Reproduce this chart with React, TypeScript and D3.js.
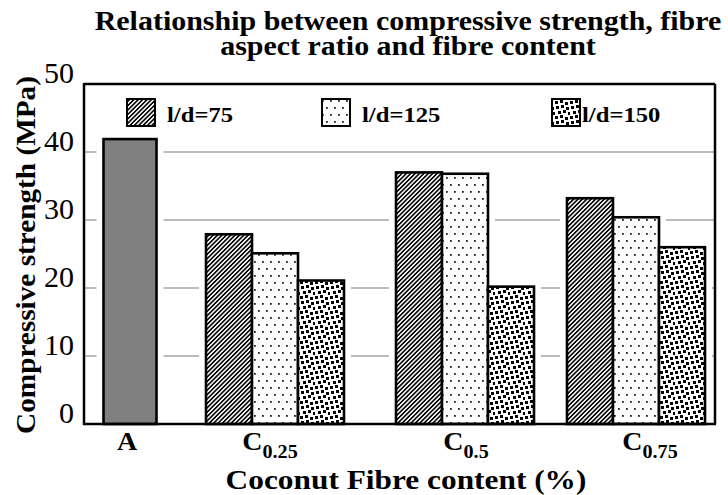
import React from 'react';
import * as d3 from 'd3';

// ---- data ----
const categories = ['A', 'C0.25', 'C0.5', 'C0.75'];
const categoryMain = ['A', 'C', 'C', 'C'];
const categorySub = ['', '0.25', '0.5', '0.75'];
const seriesNames = ['l/d=75', 'l/d=125', 'l/d=150'];
const controlValue = 41.9; // A (plain concrete)
const ld75 = [27.9, 37.0, 33.2];
const ld125 = [25.1, 36.8, 30.4];
const ld150 = [21.1, 20.2, 26.0];
const yTicks = [0, 10, 20, 30, 40, 50];

const title1 = 'Relationship between compressive strength, fibre';
const title2 = 'aspect ratio and fibre content';
const yTitle = 'Compressive strength (MPa)';
const xTitle = 'Coconut Fibre content (%)';

const W = 728;
const H = 495;
const plotL = 84;
const plotR = 715;
const plotT = 84;
const plotB = 424;
const FONT = "'Liberation Serif', 'DejaVu Serif', serif";

const seriesFill = ['url(#stripes)', 'url(#dots)', 'url(#dense)'];

type STProps = {
  x: number;
  y: number;
  sx?: number;
  rotate?: number;
  anchor?: 'start' | 'middle' | 'end';
  size: number;
  bold?: boolean;
  children: React.ReactNode;
};
function StretchText({ x, y, sx = 1, rotate = 0, anchor = 'start', size, bold = true, children }: STProps) {
  return (
    <text
      transform={`translate(${x},${y}) rotate(${rotate}) scale(${sx},1)`}
      textAnchor={anchor}
      fontSize={size}
      fontWeight={bold ? 'bold' : 'normal'}
      style={{ fontFamily: FONT }}
    >
      {children}
    </text>
  );
}

export default function App() {
  const y = d3.scaleLinear().domain([0, 50]).range([plotB, plotT]);
  const groupCenter = d3
    .scaleOrdinal<string, number>()
    .domain(categories)
    .range([130, 275, 465, 636]);
  const inner = d3.scaleBand<string>().domain(seriesNames).range([-69, 69]);
  const bw = inner.bandwidth();
  const aWidth = 53;

  const seriesVals = [ld75, ld125, ld150];
  type Bar = { x: number; w: number; v: number; fill: string };
  const bars: Bar[] = [];
  bars.push({ x: groupCenter('A') - aWidth / 2, w: aWidth, v: controlValue, fill: '#808080' });
  categories.slice(1).forEach((c, ci) => {
    seriesNames.forEach((s, si) => {
      bars.push({
        x: groupCenter(c) + (inner(s) as number),
        w: bw,
        v: seriesVals[si][ci],
        fill: seriesFill[si],
      });
    });
  });

  const denseSquares = [
    [1, 1], [6, 0], [11, 2],
    [3, 6], [8, 5], [13, 7],
    [0, 11], [5, 10], [10, 12],
  ];

  const legendItems = [
    { sx: 127, lx: 167, name: seriesNames[0], fill: seriesFill[0] },
    { sx: 322, lx: 362, name: seriesNames[1], fill: seriesFill[1] },
    { sx: 552, lx: 582, name: seriesNames[2], fill: seriesFill[2] },
  ];

  const labelShift = [-3, -5, 1, 14];

  return (
    <svg
      width={W}
      height={H}
      style={{ position: 'absolute', left: 0, top: 0, background: '#fff', fontFamily: FONT }}
    >
      <defs>
        <pattern id="stripes" patternUnits="userSpaceOnUse" width={3.1} height={3.1} patternTransform="rotate(45)">
          <rect x={0} y={0} width={3.1} height={3.1} fill="#fff" />
          <rect x={0} y={0} width={1.6} height={3.1} fill="#000" />
        </pattern>
        <pattern id="dots" patternUnits="userSpaceOnUse" width={8} height={14}>
          <rect x={0} y={0} width={8} height={14} fill="#fff" />
          <rect x={2} y={2} width={1.8} height={1.8} fill="#222" />
          <rect x={6} y={9} width={1.8} height={1.8} fill="#222" />
        </pattern>
        <pattern id="dense" patternUnits="userSpaceOnUse" width={15} height={15}>
          <rect x={0} y={0} width={15} height={15} fill="#fff" />
          {denseSquares.map(([sx, sy], i) => (
            <rect key={i} x={sx} y={sy} width={3} height={3} fill="#000" />
          ))}
        </pattern>
      </defs>

      {/* title */}
      <StretchText x={408} y={30} sx={1.11} anchor="middle" size={27}>
        {title1}
      </StretchText>
      <StretchText x={408} y={55} sx={1.11} anchor="middle" size={27}>
        {title2}
      </StretchText>

      {/* gridlines */}
      {yTicks.slice(1, -1).map((t) => (
        <line key={t} x1={plotL} x2={plotR} y1={y(t)} y2={y(t)} stroke="#a6a6a6" strokeWidth={1.5} />
      ))}

      {/* white halos round bars */}
      {bars.map((b, i) => (
        <rect key={'h' + i} x={b.x - 7} y={y(b.v)} width={b.w + 14} height={plotB - y(b.v)} fill="#fff" />
      ))}

      {/* bars */}
      {bars.map((b, i) => (
        <rect
          key={'b' + i}
          x={b.x}
          y={y(b.v)}
          width={b.w}
          height={plotB - y(b.v)}
          fill={b.fill}
          stroke="#000"
          strokeWidth={2.6}
        />
      ))}

      {/* frame */}
      <line x1={plotL} x2={plotR} y1={plotT} y2={plotT} stroke="#000" strokeWidth={2.5} />
      <line x1={plotR} x2={plotR} y1={plotT} y2={plotB} stroke="#000" strokeWidth={2.5} />
      <line x1={plotL} x2={plotL} y1={plotT - 1} y2={plotB + 1} stroke="#000" strokeWidth={2.5} />
      <line x1={plotL - 1} x2={plotR + 1} y1={plotB} y2={plotB} stroke="#000" strokeWidth={2.5} />

      {/* y tick labels */}
      {yTicks.map((t) => (
        <StretchText key={t} x={74} y={y(t) - 1} anchor="end" size={30} bold={false}>
          {t}
        </StretchText>
      ))}

      {/* legend */}
      {legendItems.map((it) => (
        <g key={it.name}>
          <rect x={it.sx} y={99} width={28} height={27} fill={it.fill} stroke="#000" strokeWidth={2} />
          <StretchText x={it.lx} y={122} sx={1.12} size={22}>
            {it.name}
          </StretchText>
        </g>
      ))}

      {/* category labels */}
      {categories.map((c, i) => (
        <StretchText key={c} x={groupCenter(c) + labelShift[i]} y={450} sx={1.12} anchor="middle" size={25}>
          {categoryMain[i]}
          {categorySub[i] && (
            <tspan fontSize={18} dy={8}>
              {categorySub[i]}
            </tspan>
          )}
        </StretchText>
      ))}

      {/* axis titles */}
      <StretchText x={406} y={489} sx={1.12} anchor="middle" size={28}>
        {xTitle}
      </StretchText>
      <StretchText x={35} y={255} rotate={-90} sx={1.045} anchor="middle" size={28}>
        {yTitle}
      </StretchText>
    </svg>
  );
}
